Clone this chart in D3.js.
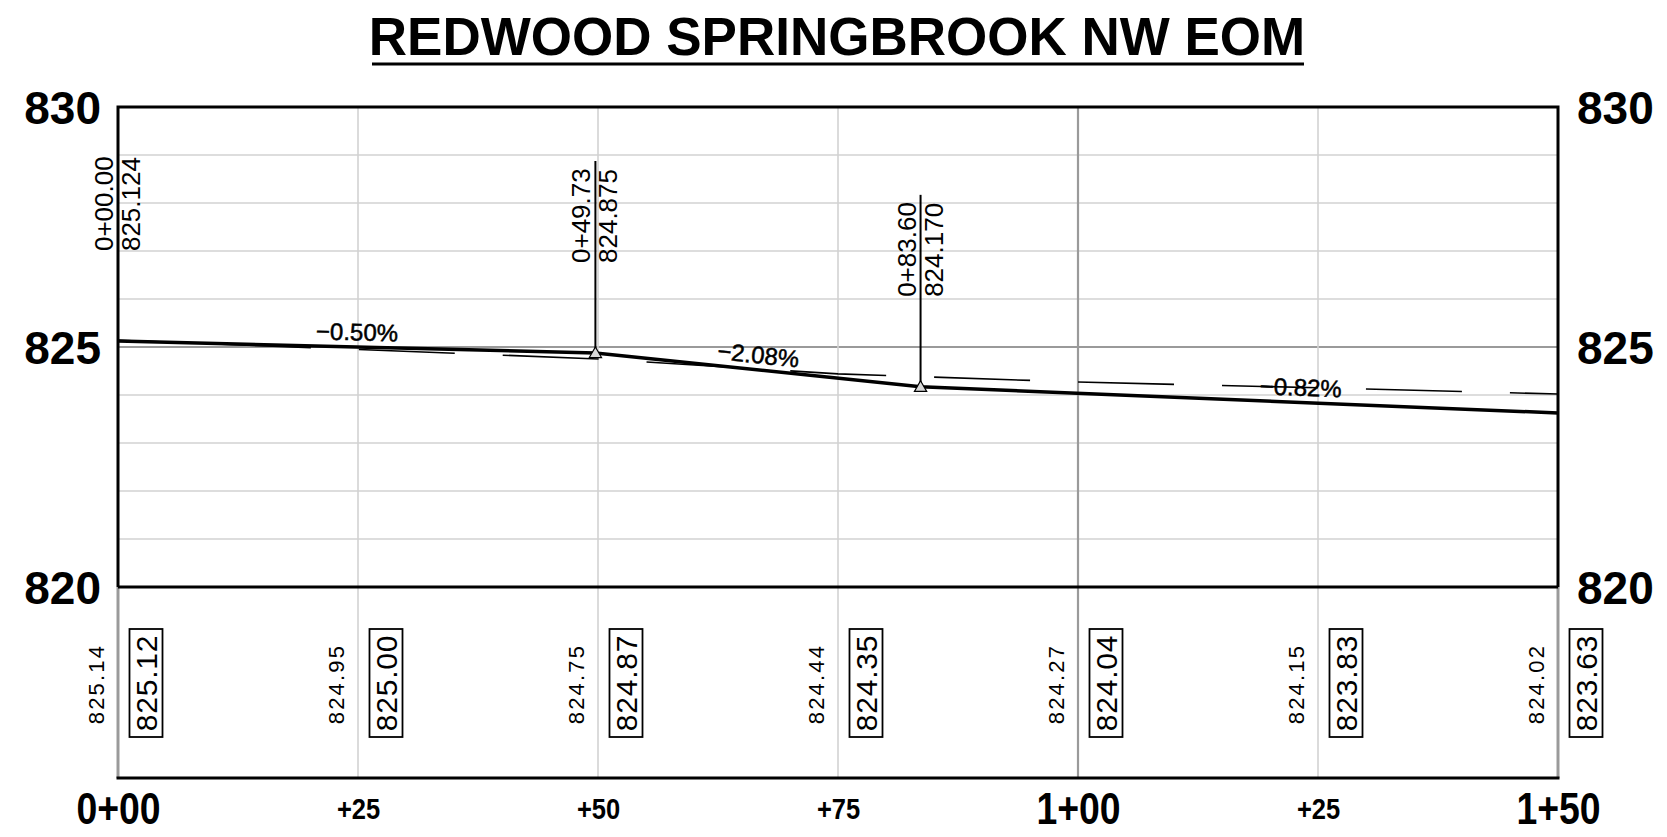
<!DOCTYPE html>
<html><head><meta charset="utf-8">
<script src="https://cdn.jsdelivr.net/npm/d3@7"></script>
<style>
html,body{margin:0;padding:0;background:#fff;}
svg{display:block;font-family:"Liberation Sans",Arial,Helvetica,sans-serif;}
</style>
</head><body>
<svg id="chart" width="1667" height="837"></svg>
<script>
// ---------- data ----------
const title = "REDWOOD SPRINGBROOK NW EOM";
const stations = [0, 25, 50, 75, 100, 125, 150];
const stationLabels = ["0+00", "+25", "+50", "+75", "1+00", "+25", "1+50"];
const majorStations = [0, 100, 150];
const elevTicks = [820, 825, 830];
const existingElev = [825.14, 824.95, 824.75, 824.44, 824.27, 824.15, 824.02];
const designElev = [825.12, 825.00, 824.87, 824.35, 824.04, 823.83, 823.63];
const pviStations = [0, 49.73, 83.60, 150];
const pviElev = [825.124, 824.875, 824.170, 823.626];
const pviStationLabels = ["0+00.00", "0+49.73", "0+83.60"];
const pviElevLabels = ["825.124", "824.875", "824.170"];
const gradeLabels = ["\u22120.50%", "\u22122.08%", "\u22120.82%"];
const gradeStations = [24.9, 66.7, 123.2];

// ---------- layout ----------
const svg = d3.select("#chart");
const x = d3.scaleLinear().domain([0, 150]).range([118, 1558]);
const y = d3.scaleLinear().domain([820, 830]).range([587, 107]);
const bandBottom = 778;
const profileElev = d3.scaleLinear().domain(pviStations).range(pviElev);
const FONT = '"Liberation Sans",Arial,Helvetica,sans-serif';
const light = "#d2d2d2", mid = "#9a9a9a";

// title
svg.append("text").attr("x", 837).attr("y", 55).attr("text-anchor", "middle")
  .attr("font-size", 53).attr("font-weight", "bold").attr("fill", "#000").text(title);
svg.append("line").attr("x1", 372).attr("x2", 1304).attr("y1", 64).attr("y2", 64)
  .attr("stroke", "#000").attr("stroke-width", 3);

// horizontal grid
const gridElevs = y.ticks(10).filter(d => d > 820 && d < 830);
svg.append("g").selectAll("line").data(gridElevs).join("line")
  .attr("x1", x(0)).attr("x2", x(150))
  .attr("y1", d => y(d)).attr("y2", d => y(d))
  .attr("stroke", d => d === 825 ? mid : light)
  .attr("stroke-width", d => d === 825 ? 2.2 : 1.6);

// vertical grid (through the band)
svg.append("g").selectAll("line").data(stations).join("line")
  .attr("x1", d => x(d)).attr("x2", d => x(d))
  .attr("y1", d => (d === 0 || d === 150) ? y(820) : y(830)).attr("y2", bandBottom)
  .attr("stroke", d => (d === 100 || d === 0 || d === 150) ? mid : light)
  .attr("stroke-width", d => (d === 100) ? 2.2 : (d === 0 || d === 150) ? 3 : 1.6);

// frame
const frame = svg.append("g").attr("stroke", "#000").attr("stroke-width", 3).attr("fill", "none");
frame.append("path").attr("d", `M${x(0)},${y(820)}V${y(830)}H${x(150)}V${y(820)}`);
frame.append("line").attr("x1", x(0)).attr("x2", x(150)).attr("y1", y(820)).attr("y2", y(820));
frame.append("line").attr("x1", x(0) - 1.5).attr("x2", x(150) + 1.5).attr("y1", bandBottom).attr("y2", bandBottom);

// existing ground (dashed)
const line = d3.line().x(d => x(d[0])).y(d => y(d[1]));
svg.append("path").datum(stations.map((s, i) => [s, existingElev[i]]))
  .attr("d", line).attr("fill", "none").attr("stroke", "#000").attr("stroke-width", 1.6)
  .attr("stroke-dasharray", "96,48").attr("stroke-dashoffset", 47);

// design profile (thick)
svg.append("path").datum(pviStations.map((s, i) => [s, pviElev[i]]))
  .attr("d", line).attr("fill", "none").attr("stroke", "#000").attr("stroke-width", 3.5)
  .attr("stroke-linejoin", "round");

// PVI markers, leader lines and labels
const pvis = pviStationLabels.map((lab, i) => ({ s: pviStations[i], e: pviElev[i], lab, elab: pviElevLabels[i] }));
const pg = svg.append("g").selectAll("g").data(pvis).join("g");
pg.append("line")
  .attr("x1", d => x(d.s)).attr("x2", d => x(d.s))
  .attr("y1", d => y(d.e)).attr("y2", d => y(d.e + 4))
  .attr("stroke", "#000").attr("stroke-width", 2);
pg.filter(d => d.s > 0).append("path")
  .attr("d", d3.symbol().type(d3.symbolTriangle).size(65))
  .attr("transform", d => `translate(${x(d.s)},${y(d.e) + 1})`)
  .attr("fill", "#d8d8d8").attr("stroke", "#000").attr("stroke-width", 1.2);
pg.append("text")
  .attr("transform", d => `translate(${x(d.s) - 5},${y(d.e) - 90}) rotate(-90)`)
  .attr("font-size", 26).attr("fill", "#000").text(d => d.lab);
pg.append("text")
  .attr("transform", d => `translate(${x(d.s) + 22},${y(d.e) - 90}) rotate(-90)`)
  .attr("font-size", 26).attr("fill", "#000").text(d => d.elab);

// grade labels
svg.append("g").selectAll("text").data(gradeLabels).join("text")
  .attr("transform", (d, i) => {
    const s = gradeStations[i];
    const e = profileElev(s);
    const ang = Math.atan2(y(profileElev(s + 1)) - y(e), x(s + 1) - x(s)) * 180 / Math.PI;
    return `translate(${x(s)},${y(e) - 15}) rotate(${ang})`;
  })
  .attr("text-anchor", "middle").attr("dy", "0.35em")
  .attr("font-size", 24).attr("fill", "#000")
  .attr("stroke", "#000").attr("stroke-width", 0.5).text(d => d);

// band labels: existing (plain) and design (boxed)
const band = svg.append("g");
band.selectAll("text.ex").data(stations).join("text").attr("class", "ex")
  .attr("transform", d => `translate(${x(d) - 22},684) rotate(-90)`)
  .attr("text-anchor", "middle").attr("dy", "0.36em")
  .attr("font-size", 22).attr("letter-spacing", 2.2).attr("fill", "#000")
  .text((d, i) => existingElev[i].toFixed(2));
band.selectAll("rect").data(stations).join("rect")
  .attr("x", d => x(d) + 28 - 16.5).attr("y", 629).attr("width", 33).attr("height", 108)
  .attr("fill", "none").attr("stroke", "#000").attr("stroke-width", 1.8);
band.selectAll("text.ds").data(stations).join("text").attr("class", "ds")
  .attr("transform", d => `translate(${x(d) + 28},683) rotate(-90)`)
  .attr("text-anchor", "middle").attr("dy", "0.36em")
  .attr("font-size", 30).attr("letter-spacing", 0.8).attr("fill", "#000")
  .text((d, i) => designElev[i].toFixed(2));

// elevation axes (left & right)
const yl = svg.append("g").attr("transform", `translate(${x(0)},0)`)
  .call(d3.axisLeft(y).tickValues(elevTicks).tickSize(0).tickPadding(17));
const yr = svg.append("g").attr("transform", `translate(${x(150)},0)`)
  .call(d3.axisRight(y).tickValues(elevTicks).tickSize(0).tickPadding(19));
[yl, yr].forEach(g => {
  g.select(".domain").remove();
  g.selectAll("text").attr("font-size", 46).attr("font-weight", "bold")
    .attr("font-family", FONT).attr("fill", "#000").attr("dy", "0.36em");
});

// station axis
const xa = svg.append("g").attr("transform", `translate(0,${bandBottom})`)
  .call(d3.axisBottom(x).tickValues(stations).tickSize(0).tickFormat((d, i) => stationLabels[i]));
xa.select(".domain").remove();
xa.selectAll("text")
  .attr("y", 30).attr("dy", "0.36em")
  .attr("font-family", FONT).attr("font-weight", "bold").attr("fill", "#000")
  .attr("font-size", d => majorStations.includes(d) ? 44 : 30)
  .attr("transform", "scale(0.85,1)");
</script>
</body></html>
